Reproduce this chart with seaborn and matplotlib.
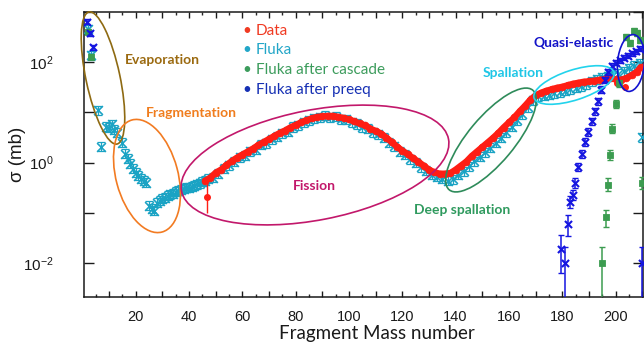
import numpy as np
import pandas as pd
import matplotlib
matplotlib.use("Agg")
import matplotlib.pyplot as plt
import seaborn as sns
from matplotlib.patches import Ellipse
from matplotlib.transforms import IdentityTransform
from matplotlib.ticker import FixedLocator, MultipleLocator, NullLocator, FuncFormatter

# ---------------- data (log10 of sigma in mb) ----------------
data_A = [46, 48, 50, 52, 54, 56, 58, 60, 62, 64, 66, 68, 70, 72, 74, 76, 78, 80, 82, 84,
          86, 88, 90, 92, 94, 96, 98, 100, 102, 104, 106, 108, 110, 112, 114, 116, 118, 120,
          122, 124, 126, 128, 130, 132, 134, 136, 138, 140, 142, 144, 146, 148, 150, 152,
          154, 156, 158, 160, 162, 164, 166, 168, 170, 172, 174, 176, 178, 180, 182, 184,
          186, 188, 190, 192, 194, 196, 198, 200, 202, 204, 206, 208, 209.5]
data_log = [-0.36, -0.30, -0.20, -0.14, -0.05, 0.03, 0.10, 0.16, 0.22, 0.28, 0.35, 0.41, 0.47,
            0.53, 0.59, 0.64, 0.70, 0.75, 0.80, 0.84, 0.88, 0.91, 0.92, 0.93, 0.93, 0.91, 0.89,
            0.86, 0.82, 0.78, 0.74, 0.68, 0.63, 0.58, 0.50, 0.41, 0.32, 0.24, 0.17, 0.09, 0.02,
            -0.06, -0.14, -0.19, -0.22, -0.22, -0.21, -0.14, -0.06, 0.02, 0.13, 0.22, 0.31,
            0.40, 0.49, 0.59, 0.70, 0.80, 0.90, 1.02, 1.13, 1.25, 1.34, 1.39, 1.43, 1.46, 1.49,
            1.51, 1.54, 1.57, 1.59, 1.61, 1.62, 1.63, 1.65, 1.66, 1.68, 1.66, 1.65, 1.68, 1.74,
            1.81, 1.90]
# isolated data points (with their error bars, log10 units)
data_extra_A = [46.8, 200.4, 203.5]
data_extra_log = [-0.68, 1.58, 1.51]
data_extra_err_lo = [0.32, 0.04, 0.04]
data_extra_err_hi = [0.34, 0.04, 0.04]

fluka_A = [2.1, 3.1, 6, 7, 9, 10, 11, 12, 13, 15, 16, 17, 18, 19, 20, 21, 22, 23, 24, 25, 26,
           27, 28, 29, 30, 31, 32, 33, 34, 35, 36, 37, 38, 39, 40, 41, 42, 43, 44, 45, 46, 47,
           49, 51, 53, 55, 57, 59, 61, 63, 65, 67, 69, 71, 73, 75, 77, 79, 81, 83, 85, 87, 89,
           91, 93, 95, 97, 99, 101, 103, 105, 107, 109, 111, 113, 115, 117, 119, 121, 123, 125,
           127, 129, 131, 133, 135, 137, 139, 141, 143, 145, 147, 149, 151, 153, 155, 157, 159,
           161, 163, 165, 167, 169, 171, 173, 175, 177, 179, 181, 183, 185, 187, 189, 191, 193,
           195, 197, 199, 201, 203, 205, 207, 209, 210.1]
fluka_log = [2.66, 2.14, 1.04, 0.32, 0.72, 0.70, 0.76, 0.66, 0.60, 0.40, 0.18, 0.08, -0.02,
             -0.12, -0.20, -0.26, -0.32, -0.36, -0.40, -0.86, -0.92, -0.96, -0.80, -0.76, -0.72,
             -0.70, -0.66, -0.63, -0.62, -0.58, -0.56, -0.54, -0.52, -0.50, -0.50, -0.48, -0.46,
             -0.43, -0.41, -0.38, -0.36, -0.32,
             -0.30, -0.22, -0.12, -0.05, 0.02, 0.11, 0.14, 0.23, 0.26, 0.36, 0.39, 0.47, 0.52,
             0.59, 0.62, 0.71, 0.74, 0.80, 0.84, 0.88, 0.90, 0.93, 0.90, 0.91, 0.86, 0.86, 0.80,
             0.77, 0.71, 0.68, 0.61, 0.57, 0.50, 0.40, 0.33, 0.22, 0.16, 0.07, 0.00, -0.09,
             -0.16, -0.24, -0.28, -0.32, -0.36, -0.33, -0.24, -0.17, -0.07, 0.03, 0.12, 0.21,
             0.30, 0.40, 0.50, 0.61, 0.72, 0.84, 0.96, 1.10, 1.24, 1.32, 1.33, 1.35, 1.38, 1.40,
             1.43, 1.46, 1.49, 1.52, 1.56, 1.62, 1.66, 1.70, 1.72, 1.74, 1.77, 1.82, 1.88, 1.93,
             1.98, 0.51]
fluka_rel_err_log = 0.09

cascade_A = [2.0, 3.1, 195.1, 196.3, 197.2, 198.1, 198.5, 200.1, 201.4, 204.1, 205.4, 206.8,
             207.9, 209.2, 210.1]
cascade_log = [2.61, 2.11, -2.0, -1.08, -0.44, 0.15, 0.68, 1.17, 1.58, 2.50, 2.38, 2.62, 2.58,
               2.45, -0.41]
cascade_err_lo = [0.05, 0.05, 1.5, 0.20, 0.13, 0.10, 0.08, 0.08, 0.07, 0.06, 0.06, 0.06, 0.06,
                  0.06, 0.12]
cascade_err_hi = [0.05, 0.05, 0.33, 0.14, 0.13, 0.10, 0.08, 0.08, 0.07, 0.06, 0.06, 0.06, 0.06,
                  0.06, 0.12]

preeq_A = [1.9, 2.9, 3.9, 179.4, 181.0, 182.3, 183.1, 183.9, 184.7, 186.0, 187.3, 188.5, 189.7,
           191.0, 192.2, 193.5, 194.7, 196.0, 197.2, 198.5, 200.0, 201.5, 203.0, 204.5, 206.0,
           207.5, 209.0, 210.1]
preeq_log = [2.81, 2.58, 2.30, -1.71, -2.0, -1.22, -0.78, -0.64, -0.41, -0.08, 0.17, 0.42, 0.62,
             0.82, 1.02, 1.22, 1.45, 1.65, 1.81, 1.93, 1.99, 2.04, 2.09, 2.13, 2.18, 2.22, 2.27,
             -2.0]
preeq_err_lo = [0.05, 0.05, 0.05, 0.49, 1.5, 0.25, 0.12, 0.10, 0.10, 0.08, 0.08, 0.08, 0.08,
                0.07, 0.07, 0.07, 0.07, 0.06, 0.06, 0.06, 0.05, 0.05, 0.05, 0.05, 0.05, 0.05,
                0.05, 1.5]
preeq_err_hi = [0.05, 0.05, 0.05, 0.27, 0.33, 0.18, 0.12, 0.10, 0.10, 0.08, 0.08, 0.08, 0.08,
                0.07, 0.07, 0.07, 0.07, 0.06, 0.06, 0.06, 0.05, 0.05, 0.05, 0.05, 0.05, 0.05,
                0.05, 0.33]

legend_labels = ["Data", "Fluka", "Fluka after cascade", "Fluka after preeq"]
region_labels = ["Evaporation", "Fragmentation", "Fission", "Deep spallation", "Spallation",
                 "Quasi-elastic"]
x_label_ticks = [20, 40, 60, 80, 100, 120, 140, 160, 180, 200]
y_label_decades = [-2, 0, 2]

# ---------------- styling ----------------
RED = "#FF1E14"
TEAL = "#1AA3C4"
GREEN = "#3C9C50"
BLUE = "#1515E0"

sns.set_theme(style="ticks")
plt.rcParams["font.family"] = ["Liberation Sans", "DejaVu Sans"]
plt.rcParams["axes.linewidth"] = 1.1

W, H = 644, 347
fig = plt.figure(figsize=(W / 100, H / 100), dpi=100)
fig.patch.set_facecolor("white")
ax = fig.add_axes([84 / W, 1 - 297 / H, (643 - 84) / W, (297 - 12) / H])
ax.set_facecolor("white")


def to_sigma(logs):
    return np.power(10.0, np.asarray(logs, dtype=float))


def asym_err(sig, lo, hi):
    lo = np.asarray(lo, dtype=float)
    hi = np.asarray(hi, dtype=float)
    return [sig * (1 - 10 ** (-lo)), sig * (10 ** hi - 1)]


# Fluka (teal)
f_sig = to_sigma(fluka_log)
f_e = np.full(len(f_sig), fluka_rel_err_log)
ax.errorbar(fluka_A, f_sig, yerr=asym_err(f_sig, f_e, f_e), fmt="none", ecolor=TEAL,
            elinewidth=0.9, capsize=2.6, capthick=0.9, zorder=2)
sns.scatterplot(x=fluka_A, y=f_sig, ax=ax, marker="x", s=40, color=TEAL, linewidth=1.2,
                zorder=3)

# Data (red)
d_sig = to_sigma(data_log)
df_data = pd.DataFrame({"A": data_A, "sigma": d_sig})
sns.lineplot(data=df_data, x="A", y="sigma", ax=ax, color=RED, lw=4.6, sort=False,
             estimator=None, zorder=4)
sns.scatterplot(data=df_data, x="A", y="sigma", ax=ax, marker="o", s=24, color=RED,
                edgecolor=RED, linewidth=0.5, zorder=4)
de_sig = to_sigma(data_extra_log)
ax.errorbar(data_extra_A, de_sig, yerr=asym_err(de_sig, data_extra_err_lo, data_extra_err_hi),
            fmt="o", ms=4, color=RED, ecolor=RED, elinewidth=1.0, capsize=0, zorder=4)

# Fluka after cascade (green)
c_sig = to_sigma(cascade_log)
ax.errorbar(cascade_A, c_sig, yerr=asym_err(c_sig, cascade_err_lo, cascade_err_hi), fmt="none",
            ecolor=GREEN, elinewidth=1.1, capsize=2.5, capthick=1.0, zorder=5)
sns.scatterplot(x=cascade_A, y=c_sig, ax=ax, marker="s", s=18, color=GREEN, edgecolor=GREEN,
                linewidth=0.6, zorder=5)

# Fluka after preeq (blue)
p_sig = to_sigma(preeq_log)
ax.errorbar(preeq_A, p_sig, yerr=asym_err(p_sig, preeq_err_lo, preeq_err_hi), fmt="none",
            ecolor=BLUE, elinewidth=1.1, capsize=2.5, capthick=1.0, zorder=6)
sns.scatterplot(x=preeq_A, y=p_sig, ax=ax, marker="x", s=26, color=BLUE, linewidth=1.5,
                zorder=6)

# ---------------- axes ----------------
ax.set_yscale("log")
ax.set_xlim(0.6, 210.3)
ax.set_ylim(10 ** -2.675, 10 ** 3.0)

ax.xaxis.set_major_locator(MultipleLocator(10))
ax.xaxis.set_minor_locator(MultipleLocator(5))
ax.xaxis.set_major_formatter(
    FuncFormatter(lambda v, p: f"{int(round(v))}" if int(round(v)) in x_label_ticks else ""))
ax.yaxis.set_major_locator(FixedLocator([10.0 ** k for k in range(-2, 4)]))
ax.yaxis.set_minor_locator(NullLocator())


def yfmt(v, p):
    k = int(round(np.log10(v)))
    return r"$\mathregular{10^{%d}}$" % k if k in y_label_decades else ""


ax.yaxis.set_major_formatter(FuncFormatter(yfmt))

ax.tick_params(axis="x", which="major", direction="in", length=4.5, width=1.0, top=True,
               bottom=True, pad=9.5, labelsize=10.5, colors="#1a1a1a")
ax.tick_params(axis="x", which="minor", direction="in", length=2.5, width=1.0, top=True,
               bottom=True)
ax.tick_params(axis="y", which="major", direction="in", length=7.5, width=1.0, left=True,
               right=True, pad=22, labelsize=11, colors="#1a1a1a")
for s in ax.spines.values():
    s.set_color("#1a1a1a")
    s.set_linewidth(1.1)

ax.set_xlabel("Fragment Mass number", fontsize=13.5, family=["Lato", "DejaVu Sans"],
              color="#1a1a1a", va="top")
ax.xaxis.set_label_coords(0.524, -0.098)
ax.set_ylabel("σ (mb)", fontsize=13.5, color="#1a1a1a")
ax.yaxis.set_label_coords(-0.104, 0.5)


# ---------------- annotations (pixel positions, top-left origin) ----------------
def ellipse_px(cx, cy, w, h, angle, color):
    e = Ellipse((cx, H - cy), w, h, angle=angle, fill=False, edgecolor=color, linewidth=1.2,
                transform=IdentityTransform(), clip_on=False, zorder=7)
    fig.add_artist(e)


def text_px(x, y, s, color, size=10, weight="bold", ha="center"):
    fig.text(x / W, 1 - y / H, s, ha=ha, va="center", fontsize=size, fontweight=weight,
             color=color, family=["Lato", "DejaVu Sans"], zorder=8)


region_colors = ["#8E6A12", "#F27B22", "#C2186B", "#2E8B5A", "#22D3EC", "#1212D0"]
region_text_colors = ["#9B6A10", "#F07D1E", "#C2186B", "#2F9A5E", "#1EC6E6", "#1414C8"]
ellipse_geom = [(103, 78, 34, 135, 12), (147, 176, 62, 116, 15), (315, 165, 272, 110, 11),
                (491, 140, 46, 130, -40), (574, 85, 84, 30, 18), (631, 63, 27, 57, -5)]
text_pos = [(162, 60), (191, 113), (314, 186), (462, 210), (513, 73), (574, 43)]

for (cx, cy, w, h, a), c in zip(ellipse_geom, region_colors):
    ellipse_px(cx, cy, w, h, a, c)
for (tx, ty), s, c in zip(text_pos, region_labels, region_text_colors):
    text_px(tx, ty, s, c)

legend_colors = ["#F03A22", "#22A6C8", "#3C9C5C", "#1630B4"]
legend_y = [31, 50, 70, 90]
for lab, c, ly in zip(legend_labels, legend_colors, legend_y):
    text_px(247, ly, "•", c, size=11, weight="normal")
    text_px(256, ly, lab, c, size=11, weight="normal", ha="left")

fig.savefig("out.png", dpi=100)
